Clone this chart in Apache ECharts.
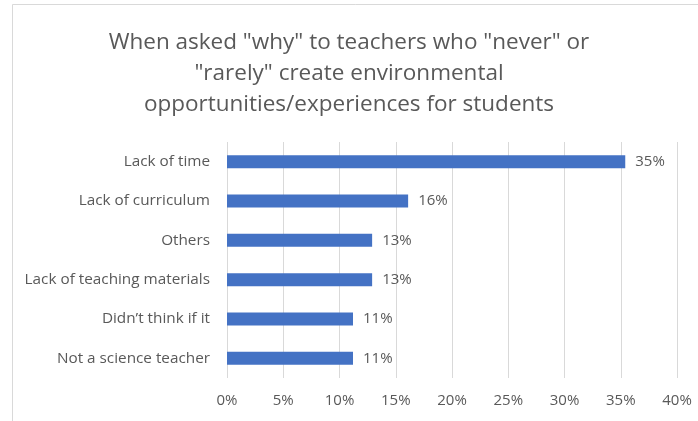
<!DOCTYPE html>
<html>
<head>
<meta charset="utf-8">
<script src="https://cdn.jsdelivr.net/npm/echarts@6/dist/echarts.min.js"></script>
<style>
    html, body { margin: 0; padding: 0; background: #fff; }
    #chart { width: 698px; height: 421px; }
</style>
</head>
<body>
<div id="chart"></div>
<script>
// categories, top to bottom
const reasons = [
    'Lack of time',
    'Lack of curriculum',
    'Others',
    'Lack of teaching materials',
    'Didn\u2019t think if it',
    'Not a science teacher'
]
// percent of teachers
const shares = [35.4, 16.1, 12.9, 12.9, 11.2, 11.2]
const xTicks = { min: 0, max: 40, step: 5 }

const textColor = '#595959'
const fontName = '"Open Sans", sans-serif'

const chart = echarts.init(document.getElementById('chart'))

chart.setOption({
    backgroundColor: '#fff',
    animation: false,
    title: {
        text: 'When asked "why" to teachers who "never" or\n"rarely" create environmental\nopportunities/experiences for students',
        left: 344,
        top: 22,
        textAlign: 'center',
        textStyle: {
            color: textColor,
            fontFamily: fontName,
            fontWeight: 'normal',
            fontSize: 22.5,
            lineHeight: 31
        }
    },
    graphic: [{
        type: 'polyline',
        shape: { points: [[12.5, 421], [12.5, 4.5], [698, 4.5]] },
        style: { stroke: '#d9d9d9', lineWidth: 1, fill: null },
        silent: true
    }],
    grid: {
        left: 227,
        right: 21,
        top: 142,
        bottom: 43,
        containLabel: false
    },
    xAxis: {
        type: 'value',
        min: xTicks.min,
        max: xTicks.max,
        interval: xTicks.step,
        axisLine: { show: false },
        axisTick: { show: false },
        splitLine: { show: true, lineStyle: { color: '#d9d9d9', width: 1 } },
        axisLabel: {
            color: textColor,
            fontFamily: fontName,
            fontSize: 15,
            margin: 15,
            formatter: v => v + '%'
        }
    },
    yAxis: {
        type: 'category',
        inverse: true,
        data: reasons,
        axisLine: { show: false },
        axisTick: { show: false },
        axisLabel: {
            color: textColor,
            fontFamily: fontName,
            fontSize: 15.3,
            margin: 17
        }
    },
    series: [{
        type: 'bar',
        data: shares,
        barWidth: 13,
        itemStyle: { color: '#4472c4' },
        label: {
            show: true,
            position: 'right',
            distance: 10,
            color: textColor,
            fontFamily: fontName,
            fontSize: 15,
            formatter: p => Math.round(p.value) + '%'
        }
    }]
})
</script>
</body>
</html>
